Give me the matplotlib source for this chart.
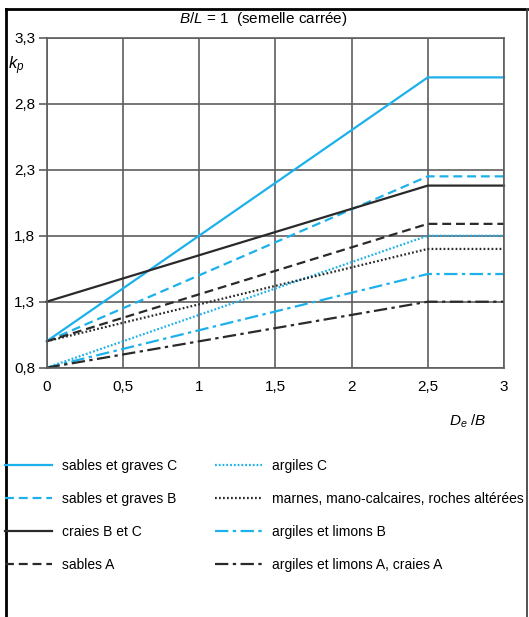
import matplotlib
matplotlib.use('Agg')
import matplotlib.pyplot as plt
from matplotlib.lines import Line2D

plt.rcParams['font.family'] = ['Liberation Sans', 'DejaVu Sans']
plt.rcParams['mathtext.fontset'] = 'custom'
plt.rcParams['mathtext.rm'] = 'Liberation Sans'
plt.rcParams['mathtext.it'] = 'Liberation Sans:italic'

# k_p en fonction de De/B : droite jusqu'a 2,5 puis palier
de_b = [0, 2.5, 3]
noms = ['sables et graves C', 'sables et graves B', 'craies B et C', 'sables A',
        'argiles C', 'marnes, mano-calcaires, roches altérées',
        'argiles et limons B', 'argiles et limons A, craies A']
kp_0 = [1.0, 1.0, 1.3, 1.0, 0.8, 1.0, 0.8, 0.8]
kp_max = [3.0, 2.25, 2.18, 1.89, 1.8, 1.7, 1.51, 1.3]

bleu = '#1cb1ea'
noir = '#2a2a2a'
couleurs = [bleu, bleu, noir, noir, bleu, noir, bleu, noir]
styles = ['-', (0, (4, 2.2)), '-', (0, (4, 2.2)), (0, (0.8, 0.9)), (0, (0.8, 1.0)),
          (0, (6, 2, 1.5, 2)), (0, (6, 2, 1.5, 2))]

W, H = 529, 617
fig = plt.figure(figsize=(W / 100, H / 100), dpi=100)
ax = fig.add_axes([46.6 / W, 1 - 367.7 / H, (504 - 46.6) / W, (367.7 - 37.8) / H])

for nom, a, b, c, ls in zip(noms, kp_0, kp_max, couleurs, styles):
    ax.plot(de_b, [a, b, b], color=c, ls=ls, lw=1.6, label=nom, clip_on=False)

ax.set_xlim(0, 3)
ax.set_ylim(0.8, 3.3)
ax.set_xticks([0, 0.5, 1, 1.5, 2, 2.5, 3])
ax.set_xticklabels(['0', '0,5', '1', '1,5', '2', '2,5', '3'])
ax.set_yticks([0.8, 1.3, 1.8, 2.3, 2.8, 3.3])
ax.set_yticklabels(['0,8', '1,3', '1,8', '2,3', '2,8', '3,3'])
ax.grid(True, color='#5e5e5e', lw=1.2)
ax.set_axisbelow(True)
for s in ax.spines.values():
    s.set_color('#5e5e5e')
    s.set_linewidth(1.2)
ax.tick_params(axis='y', length=6, width=1.2, color='#5e5e5e', labelsize=11, pad=2)
ax.tick_params(axis='x', length=0, labelsize=11, pad=9)

fig.text(263 / W, 1 - 18.6 / H, '$B/L$ = 1  (semelle carrée)', ha='center', va='center', fontsize=11)
fig.text(8 / W, 1 - 66 / H, '$k_p$', ha='left', va='center', fontsize=12)
fig.text(449 / W, 1 - 421 / H, '$D_e$ /$B$', ha='left', va='center', fontsize=11)

fig.legend(loc='upper left', bbox_to_anchor=(5 / W, 1 - 459 / H), ncol=2, frameon=False,
           fontsize=10, handlelength=3.4, handletextpad=0.7, columnspacing=2.7,
           labelspacing=1.36, borderpad=0, borderaxespad=0)

# cadre
fig.add_artist(Line2D([6 / W, 6 / W], [0, 1 - 9 / H], color='black', lw=2))
fig.add_artist(Line2D([6 / W, 527 / W], [1 - 9 / H, 1 - 9 / H], color='black', lw=2))
fig.add_artist(Line2D([527 / W, 527 / W], [0, 1 - 9 / H], color='#444444', lw=1.3))

fig.savefig('out.png', dpi=100)
